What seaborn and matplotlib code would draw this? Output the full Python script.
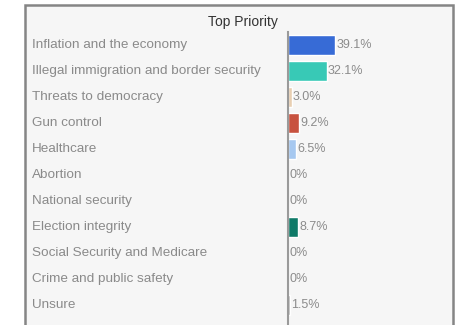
import matplotlib
matplotlib.use('Agg')
import matplotlib.pyplot as plt
import seaborn as sns
import pandas as pd
from matplotlib.patches import Rectangle
from matplotlib.transforms import blended_transform_factory

sns.set_style("white")
plt.rcParams['font.family'] = ['Liberation Sans', 'DejaVu Sans']

# data
priorities = ['Inflation and the economy', 'Illegal immigration and border security',
              'Threats to democracy', 'Gun control', 'Healthcare', 'Abortion',
              'National security', 'Election integrity', 'Social Security and Medicare',
              'Crime and public safety', 'Unsure']
shares = [39.1, 32.1, 3.0, 9.2, 6.5, 0, 0, 8.7, 0, 0, 1.5]
labels = ['39.1%', '32.1%', '3.0%', '9.2%', '6.5%', '0%', '0%', '8.7%', '0%', '0%', '1.5%']
colors = ['#376bd6', '#38c9b6', '#e8cfb2', '#c8523f', '#a6c8f0', '#bbbbbb',
          '#bbbbbb', '#0f7a68', '#bbbbbb', '#bbbbbb', '#aaaaaa']

df = pd.DataFrame({'priority': priorities, 'share': shares})

W, H = 456, 325
fig = plt.figure(figsize=(W / 100, H / 100), dpi=100)
fig.patch.set_facecolor('white')

# panel frame, drawn behind the axes
fig.patches.append(Rectangle((25 / W, -0.05), (453 - 25) / W, (H - 5) / H + 0.05,
                             transform=fig.transFigure, facecolor='#f6f6f6',
                             edgecolor='#858585', linewidth=1.8, zorder=-5))

x0, x1 = 288, 448
y_top, y_bot = 32, 318
ax = fig.add_axes([x0 / W, 1 - y_bot / H, (x1 - x0) / W, (y_bot - y_top) / H])
ax.set_facecolor('none')

sns.barplot(data=df, x='share', y='priority', hue='priority', palette=colors,
            saturation=1, legend=False, width=0.8, ax=ax, orient='h')
ax.set_xlim(0, (x1 - x0) / 1.2)
ax.set_ylim(len(priorities) - 0.5, -0.5)

for i, (v, lab) in enumerate(zip(shares, labels)):
    ax.text(v + 1.2, i, lab, va='center', ha='left', fontsize=9, color='#8c8c8c')

# category labels, left aligned in the panel
tr = blended_transform_factory(fig.transFigure, ax.transData)
for i, p in enumerate(priorities):
    fig.text(32 / W, i, p, transform=tr, va='center', ha='left', fontsize=9.7,
             color='#8a8a8a')

fig.text(243 / W, 1 - 22 / H, 'Top Priority', ha='center', va='center',
         fontsize=10, color='#333333')

ax.set_xticks([])
ax.set_yticks([])
ax.set_xlabel('')
ax.set_ylabel('')
for s in ['top', 'right', 'bottom']:
    ax.spines[s].set_visible(False)
ax.spines['left'].set_color('#9a9a9a')
ax.spines['left'].set_linewidth(1.5)
ax.spines['left'].set_bounds(len(priorities) - 0.5 + 0.3, -0.5)

fig.savefig('out.png', dpi=100)
